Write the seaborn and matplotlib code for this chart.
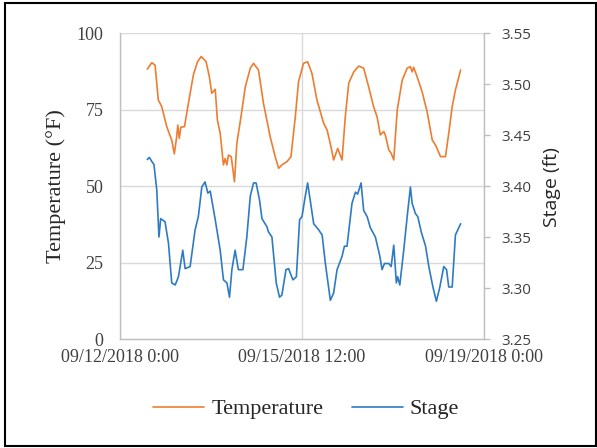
import pandas as pd
import matplotlib
matplotlib.use("Agg")
import matplotlib.pyplot as plt
from matplotlib.ticker import FuncFormatter
from matplotlib.patches import Rectangle
import seaborn as sns

# Logger record, hours counted from 09/12/2018 0:00
start = pd.Timestamp("2018-09-12 00:00")

temp_hours = [12.6, 14.7, 16.2, 17.7, 19.3, 21.6, 23.9, 25.1, 26.2, 26.7,
              27.4, 28.1, 29.8, 31.6, 33.9, 35.8, 37.5, 39.8, 41.3, 42.4,
              44.0, 45.0, 46.3, 47.8, 48.6, 49.4, 50.1, 51.4, 52.9, 54.0,
              55.9, 57.9, 60.2, 61.7, 64.0, 66.3, 69.4, 71.7, 73.3, 74.8,
              77.2, 79.0, 81.0, 82.5, 84.8, 86.7, 88.7, 91.0, 94.1, 95.7,
              97.5, 98.7, 100.6, 102.6, 104.1, 105.7, 108.0, 110.3, 112.6, 114.9,
              117.2, 118.8, 120.3, 121.9, 122.6, 124.2, 125.3, 126.5, 128.1, 130.4,
              132.7, 134.2, 135.0, 135.7, 137.3, 139.6, 141.9, 144.3, 145.8, 148.1,
              150.4, 151.9, 153.5, 155.0, 157.4]
temp_f = [88.2, 90.3, 89.5, 78.1, 75.9, 69.4, 65.0, 60.5, 66.1, 69.9,
          65.6, 69.2, 69.4, 77.0, 86.3, 90.6, 92.3, 90.6, 85.7, 80.3,
          81.6, 71.6, 67.2, 56.9, 59.0, 56.9, 60.1, 59.6, 51.4, 64.0,
          72.6, 82.4, 88.5, 90.1, 87.9, 77.0, 66.1, 59.6, 55.8, 56.9,
          58.0, 59.6, 72.6, 84.1, 90.1, 90.6, 86.8, 78.1, 70.5, 68.3,
          62.8, 58.5, 62.3, 58.5, 72.6, 83.6, 87.3, 89.2, 88.5, 82.4,
          75.9, 72.6, 66.7, 67.8, 66.7, 61.8, 60.7, 58.5, 74.8, 84.6,
          88.5, 89.0, 87.3, 88.8, 85.7, 80.8, 74.3, 65.0, 63.4, 59.6,
          59.6, 67.2, 75.9, 81.4, 87.9]

stage_hours = [12.6, 13.6, 14.7, 15.7, 17.0, 18.0, 18.8, 20.8, 22.4, 23.9,
               25.5, 27.0, 29.0, 30.1, 32.4, 34.7, 36.2, 37.8, 39.3, 40.6,
               41.7, 44.0, 46.3, 47.8, 49.4, 50.6, 51.7, 53.2, 54.7, 56.8,
               58.6, 60.2, 61.7, 62.9, 64.5, 65.6, 67.9, 68.6, 70.2, 72.2,
               73.7, 74.8, 76.7, 77.9, 79.9, 81.5, 83.0, 84.1, 85.6, 86.7,
               87.9, 89.5, 91.8, 93.4, 94.9, 97.2, 98.7, 100.3, 102.6, 103.7,
               104.9, 107.2, 108.8, 109.8, 111.4, 112.6, 114.2, 115.7, 118.0, 120.0,
               121.1, 122.2, 124.2, 125.3, 126.5, 127.7, 128.3, 129.3, 131.1, 132.7,
               134.2, 135.0, 136.5, 137.6, 139.2, 141.2, 142.7, 144.7, 146.2, 147.8,
               149.6, 150.9, 151.9, 153.5, 155.0, 157.4]
stage_ft = [3.426, 3.428, 3.424, 3.421, 3.396, 3.350, 3.368, 3.365, 3.344, 3.305,
            3.303, 3.311, 3.337, 3.319, 3.321, 3.357, 3.370, 3.399, 3.404, 3.393,
            3.395, 3.367, 3.337, 3.308, 3.305, 3.291, 3.318, 3.337, 3.318, 3.318,
            3.350, 3.390, 3.403, 3.403, 3.386, 3.368, 3.360, 3.355, 3.350, 3.305,
            3.291, 3.293, 3.318, 3.319, 3.308, 3.311, 3.367, 3.370, 3.390, 3.403,
            3.386, 3.363, 3.357, 3.352, 3.324, 3.288, 3.295, 3.318, 3.331, 3.341,
            3.341, 3.383, 3.394, 3.392, 3.403, 3.376, 3.370, 3.359, 3.350, 3.332,
            3.318, 3.324, 3.324, 3.321, 3.342, 3.305, 3.311, 3.303, 3.337, 3.370,
            3.399, 3.383, 3.373, 3.370, 3.355, 3.341, 3.321, 3.300, 3.287, 3.301,
            3.321, 3.318, 3.301, 3.301, 3.352, 3.363]

temp_ticks = [0, 25, 50, 75, 100]
stage_ticks = [3.25, 3.30, 3.35, 3.40, 3.45, 3.50, 3.55]
x_tick_hours = [0, 84, 168]

temp_df = pd.DataFrame({"time": start + pd.to_timedelta(temp_hours, unit="h"),
                        "Temperature": temp_f})
stage_df = pd.DataFrame({"time": start + pd.to_timedelta(stage_hours, unit="h"),
                         "Stage": stage_ft})

sns.set_theme(style="white")
plt.rcParams["font.family"] = ["Liberation Serif", "DejaVu Serif"]

ORANGE = "#ED7D31"
BLUE = "#2E7BC4"
GRID = "#D9D9D9"
SPINE = "#BFBFBF"

fig = plt.figure(figsize=(5.97, 4.48), dpi=100)
ax = fig.add_axes([0.201, 0.2433, 0.609, 0.683])
ax2 = ax.twinx()

sns.lineplot(data=temp_df, x="time", y="Temperature", ax=ax, color=ORANGE,
             linewidth=1.2, estimator=None, label="Temperature", legend=False)
sns.lineplot(data=stage_df, x="time", y="Stage", ax=ax2, color=BLUE,
             linewidth=1.2, estimator=None, label="Stage", legend=False)

# x axis: one week, labels at start, middle, end
xticks = [start + pd.Timedelta(hours=h) for h in x_tick_hours]
ax.set_xlim(xticks[0], xticks[-1])
ax.set_xticks(xticks)
ax.xaxis.set_major_formatter(FuncFormatter(
    lambda v, pos: (lambda d: f"{d:%m/%d/%Y} {d.hour}:{d:%M}")(
        pd.Timestamp(matplotlib.dates.num2date(v)).tz_localize(None))))
ax.set_xlabel("")

ax.set_ylim(0, 100)
ax.set_yticks(temp_ticks)
ax.set_yticklabels([str(t) for t in temp_ticks])
ax.set_ylabel("Temperature (\u00b0F)", fontsize=16, color="#262626")
ax.yaxis.set_label_coords(-0.148, 0.5)

ax2.set_ylim(3.25, 3.55)
ax2.set_yticks(stage_ticks)
ax2.set_yticklabels([f"{t:.2f}" for t in stage_ticks], fontfamily="Open Sans",
                    fontsize=11, color="#404040")
ax2.set_ylabel("Stage (ft)", fontsize=14, color="#262626", fontfamily="Open Sans")
ax2.yaxis.set_label_coords(1.164, 0.495)

ax.grid(True, axis="both", color=GRID, linewidth=1.0)
ax.set_axisbelow(True)
ax2.grid(False)

for name, sp in ax.spines.items():
    sp.set_visible(name in ("left", "bottom"))
    sp.set_color(SPINE)
    sp.set_linewidth(1.0)
for name, sp in ax2.spines.items():
    sp.set_visible(name == "right")
    sp.set_color(SPINE)
    sp.set_linewidth(1.0)

ax.tick_params(axis="x", length=0, pad=7, labelsize=13, labelcolor="#404040")
ax.tick_params(axis="y", length=0, pad=12, labelsize=13, labelcolor="#404040")
ax2.tick_params(axis="y", length=4, width=1.0, color=SPINE, pad=9)

handles = [ax.lines[0], ax2.lines[0]]
fig.legend(handles, ["Temperature", "Stage"], loc="center",
           bbox_to_anchor=(0.513, 0.087), ncol=2, frameon=False, fontsize=16,
           handlelength=2.3, handletextpad=0.3, columnspacing=1.3,
           labelcolor="#262626")

# outer frame round the whole chart
fig.add_artist(Rectangle((5 / 597, 2.5 / 448), 590.5 / 597, 442.5 / 448,
                         transform=fig.transFigure, fill=False,
                         edgecolor="black", linewidth=1.5))

fig.savefig("out.png", dpi=100)
